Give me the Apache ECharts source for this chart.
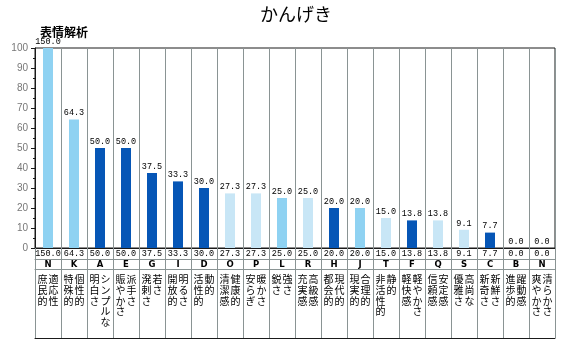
<!DOCTYPE html>
<html><head><meta charset="utf-8">
<script src="https://cdn.jsdelivr.net/npm/echarts@6/dist/echarts.min.js"></script>
<style>html,body{margin:0;padding:0;background:#fff}#c{width:573px;height:349px}</style>
</head><body><div id="c"></div>
<script>
const title = 'かんげき';
const subtitle = '表情解析';
const codes = ['N','K','A','E','G','I','D','O','P','L','R','H','J','T','F','Q','S','C','B','N'];
const values = [150.0,64.3,50.0,50.0,37.5,33.3,30.0,27.3,27.3,25.0,25.0,20.0,20.0,15.0,13.8,13.8,9.1,7.7,0.0,0.0];
const leftWords = ['庶民的','特殊的','明白さ','賑やかさ','溌剌さ','開放的','活性的','清潔感','安らぎ','鋭さ','充実感','都会的','現実的','非活性的','軽快感','信頼感','優雅さ','新奇さ','進歩的','爽やかさ'];
const rightWords = ['適応性','個性的','シンプルな','派手さ','若さ','明るさ','動的','健康的','暖かさ','強さ','高級感','現代的','合理的','静的','軽やかさ','安定感','高尚な','新鮮さ','躍動感','清らかさ'];
const shades = ['light','light','dark','dark','dark','dark','dark','pale','pale','light','pale','dark','light','pale','dark','pale','pale','dark','pale','pale'];
const yTicks = {min:0, max:100, interval:10};

const palette = {light:'#8fd2f2', dark:'#0656b6', pale:'#c8e6f6'};
const keys = codes.map((c,i)=>String(i));
const gridLine = '#8a9494';
const dark = '#1a1a1a';

function cellText(i){
  const a = Array.from(leftWords[i]), b = Array.from(rightWords[i]);
  const n = Math.max(a.length, b.length);
  const lines = [];
  for(let r=0;r<n;r++){
    lines.push('{c|'+(a[r]||'　')+'}{c|'+(b[r]||'　')+'}');
  }
  return lines.join('\n');
}

const chart = echarts.init(document.getElementById('c'));
const mono = '"Liberation Mono","DejaVu Sans Mono",monospace';
chart.setOption({
  animation:false,
  title:[
    {text:title,left:255,top:0,textStyle:{fontFamily:'"Noto Sans CJK JP"',fontSize:18,fontWeight:'normal',color:'#000'}},
    {text:subtitle,left:35,top:21,textStyle:{fontFamily:'"Noto Sans CJK JP"',fontSize:12,fontWeight:'bold',color:'#000'}}
  ],
  grid:{left:35,top:48,width:520,height:200,show:true,borderColor:dark,borderWidth:1,backgroundColor:'transparent'},
  xAxis:[
    {type:'category',data:keys,gridIndex:0,position:'bottom',
     axisLine:{lineStyle:{color:dark}},axisTick:{show:false},axisLabel:{show:false},
     splitLine:{show:true,interval:0,lineStyle:{color:gridLine,width:1}}},
    {type:'category',data:keys,gridIndex:0,position:'bottom',offset:0,
     axisLine:{show:false},
     axisTick:{show:true,interval:0,length:11,lineStyle:{color:gridLine}},
     axisLabel:{show:true,interval:0,margin:1,fontFamily:mono,fontSize:8.5,color:'#000',lineHeight:10,
       formatter:(v,i)=>values[i].toFixed(1)}},
    {type:'category',data:keys,gridIndex:0,position:'bottom',offset:11,
     axisLine:{show:true,lineStyle:{color:gridLine}},
     axisTick:{show:true,interval:0,length:10,lineStyle:{color:gridLine}},
     axisLabel:{show:true,interval:0,margin:1,fontFamily:'"DejaVu Sans"',fontWeight:'bold',fontSize:8.5,color:'#000',lineHeight:9,
       formatter:(v,i)=>codes[i]}},
    {type:'category',data:keys,gridIndex:0,position:'bottom',offset:21,
     axisLine:{show:true,lineStyle:{color:gridLine}},
     axisTick:{show:true,interval:0,length:69,lineStyle:{color:gridLine}},
     axisLabel:{show:true,interval:0,margin:5,color:'#000',
       formatter:(v,i)=>cellText(i),
       rich:{c:{width:11,align:'center',fontSize:10,lineHeight:10.75,fontFamily:'"Noto Sans CJK JP"',color:'#000'}}}},
    {type:'category',data:keys,gridIndex:0,position:'bottom',offset:90,
     axisLine:{show:true,lineStyle:{color:dark}},axisTick:{show:false},axisLabel:{show:false}}
  ],
  yAxis:{type:'value',min:yTicks.min,max:yTicks.max,interval:yTicks.interval,
    axisLine:{show:true,lineStyle:{color:dark}},
    axisTick:{show:true,length:4,lineStyle:{color:dark}},
    minorTick:{show:true,splitNumber:2,length:2,lineStyle:{color:dark}},
    splitLine:{show:false},
    axisLabel:{margin:7,fontFamily:'"Liberation Sans"',fontSize:10,color:'#777'}},
  series:[{
    type:'bar',xAxisIndex:0,yAxisIndex:0,barWidth:10,
    data:values.map((v,i)=>({value:Math.min(v,yTicks.max),itemStyle:{color:palette[shades[i]]}})),
    label:{show:true,position:'top',distance:2,fontFamily:mono,fontSize:8.5,color:'#000',
      formatter:p=>values[p.dataIndex].toFixed(1)}
  }]
});
</script></body></html>
